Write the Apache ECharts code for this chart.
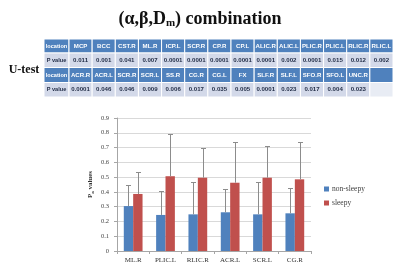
<!DOCTYPE html>
<html>
<head>
<meta charset="utf-8">
<script src="https://cdn.jsdelivr.net/npm/echarts@6/dist/echarts.min.js"></script>
<style>
  html, body { margin: 0; padding: 0; background: #fff; }
  #chart { width: 400px; height: 269px; }
</style>
</head>
<body>
<div id="chart"></div>
<script>
// table contents
const row1Loc = ['MCP', 'BCC', 'CST.R', 'ML.R', 'ICP.L', 'SCP.R', 'CP.R', 'CP.L', 'ALIC.R', 'ALIC.L', 'PLIC.R', 'PLIC.L', 'RLIC.R', 'RLIC.L'];
const row1P = ['0.011', '0.001', '0.041', '0.007', '0.0001', '0.0001', '0.0001', '0.0001', '0.0001', '0.002', '0.0001', '0.015', '0.012', '0.002'];
const row2Loc = ['ACR.R', 'ACR.L', 'SCR.R', 'SCR.L', 'SS.R', 'CG.R', 'CG.L', 'FX', 'SLF.R', 'SLF.L', 'SFO.R', 'SFO.L', 'UNC.R', ''];
const row2P = ['0.0001', '0.046', '0.046', '0.009', '0.006', '0.017', '0.035', '0.005', '0.0001', '0.023', '0.017', '0.004', '0.023', ''];

// bar chart
const categories = ['ML.R', 'PLIC.L', 'RLIC.R', 'ACR.L', 'SCR.L', 'CG.R'];
const nonSleepy = [0.304, 0.244, 0.248, 0.262, 0.248, 0.255];
const nonSleepyErr = [0.446, 0.405, 0.466, 0.42, 0.464, 0.428];
const sleepy = [0.386, 0.506, 0.496, 0.462, 0.496, 0.485];
const sleepyErr = [0.532, 0.793, 0.70, 0.736, 0.712, 0.738];

const chart = echarts.init(document.getElementById('chart'));

const blue = '#4f81bd';
const red = '#c0504d';
const serif = '"Liberation Serif", "DejaVu Serif", serif';
const sans = '"Liberation Sans", "DejaVu Sans", sans-serif';

// build table as graphic elements
const tableLeft = 44;
const firstW = 25;
const colW = (393 - tableLeft - firstW) / 14;
const rowTops = [39, 53, 67.5, 82.5, 97];
const rows = [
  { head: true, cells: ['location'].concat(row1Loc) },
  { head: false, cells: ['P value'].concat(row1P) },
  { head: true, cells: ['location'].concat(row2Loc) },
  { head: false, cells: ['P value'].concat(row2P) }
];
const tableEls = [];
rows.forEach((row, r) => {
  const y = rowTops[r];
  const h = rowTops[r + 1] - y;
  row.cells.forEach((txt, c) => {
    const x = c === 0 ? tableLeft : tableLeft + firstW + (c - 1) * colW;
    const w = c === 0 ? firstW : colW;
    let fill = row.head ? blue : '#d3d9e9';
    if (!row.head && r === 3 && c === 14) fill = '#e8ecf4';
    tableEls.push({
      type: 'rect',
      shape: { x: x, y: y, width: w, height: h },
      style: { fill: fill, stroke: '#fff', lineWidth: 1 }
    });
    if (txt) {
      tableEls.push({
        type: 'text',
        x: x + w / 2,
        y: y + h / 2,
        style: {
          text: txt,
          fill: row.head ? '#fff' : '#1f2a44',
          font: 'bold ' + (c === 0 ? 5.6 : 6.1) + 'px ' + sans,
          align: 'center',
          verticalAlign: 'middle'
        }
      });
    }
  });
});

function errSeries(name, lows, highs, shift) {
  return {
    name: name + '-err',
    type: 'custom',
    silent: true,
    z: 5,
    renderItem: function (params, api) {
      const i = api.value(0);
      const p0 = api.coord([i, api.value(1)]);
      const p1 = api.coord([i, api.value(2)]);
      const band = api.size([1, 0])[0];
      const cx = Math.round(p0[0] + shift * band) + 0.5;
      const top = Math.round(p1[1]) + 0.5;
      return {
        type: 'group',
        children: [
          { type: 'line', shape: { x1: cx, y1: p0[1], x2: cx, y2: top }, style: { stroke: '#8c8c8c', lineWidth: 1 } },
          { type: 'line', shape: { x1: cx - 2.5, y1: top, x2: cx + 2.5, y2: top }, style: { stroke: '#8c8c8c', lineWidth: 1 } }
        ]
      };
    },
    data: categories.map((c, i) => [i, lows[i], highs[i]])
  };
}

const option = {
  animation: false,
  backgroundColor: '#fff',
  title: {
    text: '{t|(α,β,D}{s|m}{t|) combination}',
    left: 'center',
    top: 4,
    textStyle: {
      rich: {
        t: { fontFamily: serif, fontWeight: 'bold', fontSize: 18, color: '#111' },
        s: { fontFamily: serif, fontWeight: 'bold', fontSize: 11, color: '#111', verticalAlign: 'bottom', padding: [9, 0, 0, 0] }
      }
    }
  },
  graphic: [
    {
      type: 'text',
      x: 24,
      y: 70,
      style: {
        text: 'U-test',
        font: 'bold 12px ' + serif,
        fill: '#111',
        align: 'center',
        verticalAlign: 'middle'
      }
    }
  ].concat(tableEls),
  legend: {
    orient: 'vertical',
    left: 319,
    top: 180,
    itemWidth: 5,
    itemHeight: 5,
    itemGap: 6,
    icon: 'rect',
    data: ['non-sleepy', 'sleepy'],
    textStyle: { fontFamily: serif, fontSize: 7.5, color: '#404040', padding: [0, 0, 0, -2] }
  },
  grid: { left: 117, right: 89, top: 118, bottom: 18 },
  xAxis: {
    type: 'category',
    data: categories,
    axisLine: { lineStyle: { color: '#a6a6a6' } },
    axisTick: { show: true, length: 3, lineStyle: { color: '#a6a6a6' } },
    axisLabel: { fontFamily: serif, fontSize: 7, color: '#333', margin: 6 }
  },
  yAxis: {
    type: 'value',
    min: 0,
    max: 0.9,
    interval: 0.1,
    name: '{p|P}{s|a}{p| values}',
    nameLocation: 'middle',
    nameGap: 22,
    nameRotate: 90,
    nameTextStyle: {
      rich: {
        p: { fontFamily: serif, fontWeight: 'bold', fontSize: 7, color: '#333' },
        s: { fontFamily: serif, fontWeight: 'bold', fontSize: 5, color: '#333', padding: [4, 0, 0, 0] }
      }
    },
    axisLine: { show: true, lineStyle: { color: '#a6a6a6' } },
    axisTick: { show: true, length: 3, lineStyle: { color: '#a6a6a6' } },
    splitLine: { lineStyle: { color: '#d9d9d9' } },
    axisLabel: {
      fontFamily: serif,
      fontSize: 6.5,
      color: '#444',
      margin: 8,
      formatter: v => (v === 0 ? '0' : v.toFixed(1))
    }
  },
  series: [
    {
      name: 'non-sleepy',
      type: 'bar',
      barWidth: '29%',
      barGap: '0%',
      itemStyle: { color: blue },
      data: nonSleepy
    },
    {
      name: 'sleepy',
      type: 'bar',
      barWidth: '29%',
      barGap: '0%',
      itemStyle: { color: red },
      data: sleepy
    },
    errSeries('non-sleepy', nonSleepy, nonSleepyErr, -0.145),
    errSeries('sleepy', sleepy, sleepyErr, 0.145)
  ]
};

chart.setOption(option);
</script>
</body>
</html>
